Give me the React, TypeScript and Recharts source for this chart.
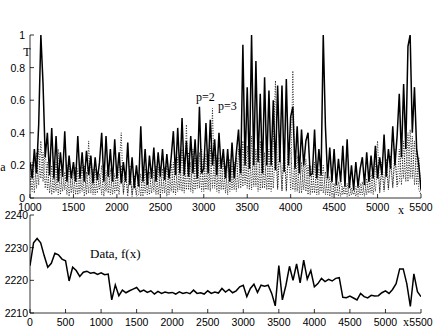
import React from 'react'
import { LineChart, Line, XAxis, YAxis } from 'recharts'

// top panel: x from 1000 to 5500, one value every 25
const topStart = 1000
const topStep = 25

const solidT = [
  0.22, 0.12, 0.3, 0.15, 0.45, 1.0, 0.7, 0.25, 0.4, 0.14,
  0.43, 0.12, 0.38, 0.1, 0.28, 0.13, 0.41, 0.1, 0.26, 0.12,
  0.22, 0.1, 0.38, 0.12, 0.28, 0.1, 0.29, 0.14, 0.26, 0.09,
  0.25, 0.11, 0.22, 0.4, 0.1, 0.38, 0.13, 0.3, 0.1, 0.36,
  0.12, 0.28, 0.09, 0.22, 0.1, 0.34, 0.08, 0.25, 0.06, 0.2,
  0.07, 0.44, 0.1, 0.3, 0.08, 0.26, 0.12, 0.31, 0.1, 0.28,
  0.13, 0.3, 0.11, 0.27, 0.12, 0.25, 0.41, 0.14, 0.43, 0.15,
  0.49, 0.14, 0.35, 0.13, 0.38, 0.15, 0.36, 0.12, 0.56, 0.15,
  0.18, 0.46, 0.15, 0.48, 0.2, 0.36, 0.14, 0.4, 0.18, 0.3,
  0.12, 0.3, 0.1, 0.34, 0.12, 0.28, 0.42, 0.15, 0.94, 0.2,
  0.68, 0.18, 1.0, 0.2, 0.84, 0.22, 0.64, 0.15, 0.74, 0.2,
  0.66, 0.2, 0.6, 0.17, 0.69, 0.22, 0.69, 0.16, 0.73, 0.2,
  0.5, 0.56, 0.18, 0.44, 0.15, 0.42, 0.2, 0.35, 0.4, 0.14,
  0.15, 0.42, 0.12, 0.3, 0.14, 1.0, 0.44, 0.12, 0.31, 0.1,
  0.3, 0.08, 0.24, 0.1, 0.32, 0.07, 0.36, 0.06, 0.2, 0.05,
  0.22, 0.07, 0.18, 0.25, 0.08, 0.28, 0.1, 0.26, 0.12, 0.32,
  0.12, 0.25, 0.14, 0.39, 0.13, 0.3, 0.18, 0.44, 0.2, 0.38,
  0.64, 0.25, 0.7, 0.3, 0.93, 1.0, 0.4, 0.68, 0.3, 0.2, 0.05,
]

const p2 = [
  0.05, 0.22, 0.03, 0.28, 0.08, 0.35, 0.1, 0.3, 0.05, 0.2,
  0.02, 0.18, 0.04, 0.3, 0.02, 0.17, 0.05, 0.2, 0.01, 0.16,
  0.03, 0.19, 0.02, 0.15, 0.04, 0.2, 0.02, 0.35, 0.03, 0.18,
  0.02, 0.16, 0.05, 0.2, 0.01, 0.17, 0.03, 0.18, 0.02, 0.15,
  0.04, 0.18, 0.4, 0.02, 0.16, 0.03, 0.2, 0.01, 0.14, 0.02,
  0.13, 0.01, 0.17, 0.03, 0.15, 0.02, 0.18, 0.04, 0.2, 0.02,
  0.16, 0.03, 0.19, 0.01, 0.17, 0.04, 0.22, 0.02, 0.25, 0.05,
  0.3, 0.03, 0.45, 0.05, 0.22, 0.03, 0.25, 0.06, 0.28, 0.04,
  0.24, 0.05, 0.3, 0.04, 0.55, 0.06, 0.26, 0.03, 0.22, 0.05,
  0.2, 0.02, 0.24, 0.05, 0.22, 0.04, 0.3, 0.06, 0.35, 0.08,
  0.32, 0.05, 0.38, 0.07, 0.3, 0.04, 0.35, 0.06, 0.28, 0.05,
  0.3, 0.04, 0.33, 0.72, 0.06, 0.3, 0.05, 0.32, 0.04, 0.28,
  0.05, 0.78, 0.04, 0.26, 0.03, 0.22, 0.05, 0.24, 0.02, 0.2,
  0.03, 0.22, 0.02, 0.18, 0.04, 0.2, 0.02, 0.15, 0.01, 0.12,
  0.02, 0.1, 0.01, 0.12, 0.02, 0.08, 0.01, 0.1, 0.02, 0.06,
  0.01, 0.08, 0.02, 0.1, 0.01, 0.12, 0.03, 0.15, 0.02, 0.18,
  0.35, 0.03, 0.17, 0.04, 0.2, 0.05, 0.22, 0.06, 0.25, 0.07,
  0.3, 0.08, 0.35, 0.1, 0.4, 0.12, 0.38, 0.08, 0.3, 0.05, 0.02,
]

const p3 = [
  0.15, 0.04, 0.25, 0.06, 0.3, 0.12, 0.28, 0.06, 0.22, 0.03,
  0.2, 0.03, 0.22, 0.02, 0.18, 0.04, 0.16, 0.02, 0.2, 0.03,
  0.17, 0.02, 0.18, 0.03, 0.2, 0.01, 0.16, 0.03, 0.25, 0.02,
  0.18, 0.03, 0.15, 0.02, 0.19, 0.04, 0.2, 0.02, 0.17, 0.03,
  0.16, 0.02, 0.2, 0.03, 0.15, 0.01, 0.17, 0.02, 0.12, 0.01,
  0.02, 0.15, 0.01, 0.18, 0.02, 0.16, 0.03, 0.17, 0.02, 0.19,
  0.02, 0.18, 0.03, 0.2, 0.02, 0.21, 0.03, 0.24, 0.04, 0.22,
  0.04, 0.25, 0.05, 0.28, 0.04, 0.3, 0.05, 0.26, 0.06, 0.3,
  0.04, 0.27, 0.05, 0.32, 0.06, 0.28, 0.04, 0.25, 0.05, 0.24,
  0.03, 0.22, 0.04, 0.2, 0.05, 0.25, 0.06, 0.3, 0.07, 0.33,
  0.06, 0.36, 0.05, 0.33, 0.07, 0.38, 0.05, 0.32, 0.06, 0.3,
  0.05, 0.34, 0.06, 0.3, 0.05, 0.35, 0.04, 0.3, 0.05, 0.33,
  0.3, 0.05, 0.28, 0.04, 0.25, 0.03, 0.22, 0.04, 0.2, 0.02,
  0.2, 0.03, 0.19, 0.02, 0.17, 0.03, 0.16, 0.02, 0.13, 0.01,
  0.09, 0.02, 0.1, 0.01, 0.07, 0.02, 0.09, 0.01, 0.06, 0.02,
  0.07, 0.01, 0.09, 0.02, 0.11, 0.02, 0.14, 0.03, 0.16, 0.04,
  0.2, 0.04, 0.22, 0.05, 0.24, 0.06, 0.26, 0.07, 0.3, 0.08,
  0.1, 0.32, 0.12, 0.38, 0.1, 0.42, 0.12, 0.35, 0.08, 0.25, 0.03,
]

const topXTicks = [1000, 1500, 2000, 2500, 3000, 3500, 4000, 4500, 5000, 5500]
const topYTicks = [0, 0.2, 0.4, 0.6, 0.8, 1]

// bottom panel: the data f(x), one value every 50 from 0
const fStep = 50
const fValues = [
  2224.5, 2231.5, 2232.8, 2231.5, 2227.5, 2224, 2225.2, 2228.3, 2227.8, 2226.5,
  2226, 2219.8, 2224, 2223, 2221.2, 2222.5, 2222.8, 2222.2, 2222.4, 2221.8,
  2222.3, 2221.7, 2221.9, 2214, 2218.6, 2215.3, 2217, 2216.2, 2216.8, 2217.3,
  2217.8, 2216.5, 2217, 2216.3, 2216.8, 2215.8, 2216.6, 2216, 2216.4, 2216.1,
  2216.3, 2215.8, 2216.5, 2216, 2216.3, 2215.9, 2217, 2216, 2216.2, 2215.8,
  2216.8, 2216, 2216.4, 2216.1, 2217.5, 2216.4, 2217.2, 2216.2, 2216.8, 2218,
  2218.5, 2215, 2217.5, 2218.8, 2216.3, 2218.5, 2218.2, 2218.5, 2216, 2212.2,
  2224.5, 2214, 2218.5, 2224.3, 2220, 2225, 2219.2, 2226.2, 2220.4, 2223,
  2218, 2219, 2220.6, 2219.6, 2220.3, 2219.8, 2220.6, 2220.8, 2214.8, 2214.7,
  2215.2, 2214.6, 2214, 2216, 2215, 2214.6, 2215.4, 2215.2, 2215.3, 2216.2,
  2216.8, 2216, 2217.2, 2219, 2223.5, 2223.5, 2219, 2212, 2222, 2216.5,
  2215,
]

const botXTicks = [0, 500, 1000, 1500, 2000, 2500, 3000, 3500, 4000, 4500, 5000, 5500]
const botYTicks = [2210, 2220, 2230, 2240]

const topData = solidT.map((v, i) => ({ x: topStart + i * topStep, s: v, p2: p2[i], p3: p3[i] }))
const botData = fValues.map((v, i) => ({ x: i * fStep, f: v }))

const sans = 'Liberation Sans, Arial, sans-serif'
const serif = 'Liberation Serif, Times New Roman, serif'
const TL = 4 // inward tick length

const bottomTick = (p: any) => (
  <g>
    <line x1={p.x} y1={p.y} x2={p.x} y2={p.y - TL} stroke="#000" strokeWidth={0.8} />
    <text x={p.x} y={p.y + 9} textAnchor="middle" dominantBaseline="central" fontFamily={sans} fontSize={10.5} fill="#000">
      {p.payload.value}
    </text>
  </g>
)
const topTick = (p: any) => <line x1={p.x} y1={p.y} x2={p.x} y2={p.y + TL} stroke="#000" strokeWidth={0.8} />
const rightTick = (p: any) => <line x1={p.x} y1={p.y} x2={p.x - TL} y2={p.y} stroke="#000" strokeWidth={0.8} />
const leftTick = (gap: number) => (p: any) => (
  <g>
    <line x1={p.x} y1={p.y} x2={p.x + TL} y2={p.y} stroke="#000" strokeWidth={0.8} />
    <text x={p.x - gap} y={p.y} textAnchor="end" dominantBaseline="central" fontFamily={sans} fontSize={10.5} fill="#000">
      {p.payload.value}
    </text>
  </g>
)

const axisLine = { stroke: '#000', strokeWidth: 0.8 }

export default function App() {
  return (
    <div style={{ position: 'absolute', left: 0, top: 0, width: 436, height: 330, background: '#fff' }}>
      <div style={{ position: 'absolute', left: 0, top: 0 }}>
        <LineChart width={436} height={215} data={topData} margin={{ top: 35, right: 15, bottom: 0, left: 0 }}>
          <XAxis dataKey="x" type="number" domain={[1000, 5500]} ticks={topXTicks} allowDataOverflow
            height={17} tickSize={0} tickMargin={0} tickLine={false} axisLine={axisLine} tick={bottomTick} interval={0} />
          <XAxis xAxisId="top" orientation="top" type="number" domain={[1000, 5500]} ticks={topXTicks}
            height={0} tickSize={0} tickMargin={0} tickLine={false} axisLine={axisLine} tick={topTick} interval={0} />
          <YAxis type="number" domain={[0, 1]} ticks={topYTicks} width={30} allowDataOverflow
            tickSize={0} tickMargin={0} tickLine={false} axisLine={axisLine} tick={leftTick(5)} interval={0} />
          <YAxis yAxisId="right" orientation="right" type="number" domain={[0, 1]} ticks={topYTicks} width={0}
            tickSize={0} tickMargin={0} tickLine={false} axisLine={axisLine} tick={rightTick} interval={0} />
          <Line dataKey="p3" stroke="#000" strokeWidth={0.8} strokeDasharray="1 1.5" dot={false} isAnimationActive={false} />
          <Line dataKey="p2" stroke="#000" strokeWidth={0.8} strokeDasharray="1 1.5" dot={false} isAnimationActive={false} />
          <Line dataKey="s" stroke="#000" strokeWidth={1.5} dot={false} isAnimationActive={false} />
        </LineChart>
      </div>
      <div style={{ position: 'absolute', left: 0, top: 200 }}>
        <LineChart width={436} height={130} data={botData} margin={{ top: 15, right: 15, bottom: 0, left: 0 }}>
          <XAxis dataKey="x" type="number" domain={[0, 5500]} ticks={botXTicks} allowDataOverflow
            height={17} tickSize={0} tickMargin={0} tickLine={false} axisLine={axisLine} tick={bottomTick} interval={0} />
          <XAxis xAxisId="top" orientation="top" type="number" domain={[0, 5500]} ticks={botXTicks}
            height={0} tickSize={0} tickMargin={0} tickLine={false} axisLine={axisLine} tick={topTick} interval={0} />
          <YAxis type="number" domain={[2210, 2240]} ticks={botYTicks} width={30} allowDataOverflow
            tickSize={0} tickMargin={0} tickLine={false} axisLine={axisLine} tick={leftTick(2)} interval={0} />
          <YAxis yAxisId="right" orientation="right" type="number" domain={[2210, 2240]} ticks={botYTicks} width={0}
            tickSize={0} tickMargin={0} tickLine={false} axisLine={axisLine} tick={rightTick} interval={0} />
          <Line dataKey="f" stroke="#000" strokeWidth={1.5} dot={false} isAnimationActive={false} />
        </LineChart>
      </div>
      <svg width={436} height={330} style={{ position: 'absolute', left: 0, top: 0, pointerEvents: 'none' }}>
        <g fontFamily={serif} fill="#000" dominantBaseline="central">
          <text x={27} y={52} fontSize={12} textAnchor="middle">T</text>
          <text x={3} y={167} fontSize={12} textAnchor="middle">a</text>
          <text x={401} y={210} fontSize={12} textAnchor="middle">x</text>
          <text x={196} y={97} fontSize={12}>p=2</text>
          <text x={218} y={106} fontSize={12}>p=3</text>
          <text x={90} y={253} fontSize={13}>Data, f(x)</text>
          <text x={406} y={322} fontSize={12} textAnchor="middle">x</text>
        </g>
      </svg>
    </div>
  )
}
